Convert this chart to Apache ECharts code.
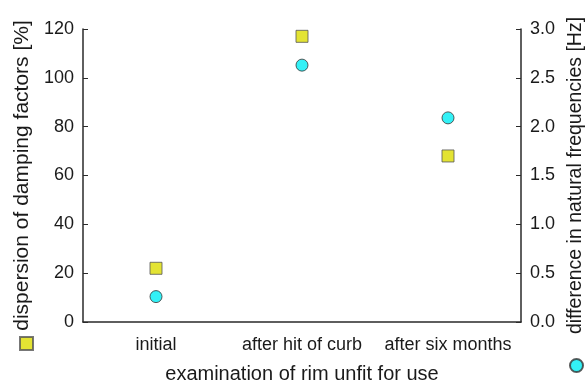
<!DOCTYPE html>
<html><head><meta charset="utf-8">
<script src="https://cdn.jsdelivr.net/npm/echarts@6/dist/echarts.min.js"></script>
<style>html,body{margin:0;padding:0;background:#fff}#c{width:586px;height:383px}</style>
</head><body><div id="c"></div>
<script>
const categories = ['initial', 'after hit of curb', 'after six months'];
const damping = [22, 117, 68];
const freqDiff = [0.26, 2.63, 2.09];
const leftTicks = [0, 20, 40, 60, 80, 100, 120];
const rightTicks = [0, 0.5, 1.0, 1.5, 2.0, 2.5, 3.0];

const font = 'Liberation Sans, Arial, sans-serif';
const axisCol = '#2a2a2a';
const txt = '#1a1a1a';
const chart = echarts.init(document.getElementById('c'));
chart.setOption({
  animation: false,
  grid: {left: 83, right: 65, top: 29, bottom: 61, containLabel: false, outerBoundsMode: 'none'},
  legend: [
    {data: ['damping'], left: 19, top: 336, itemWidth: 13, itemHeight: 13, formatter: () => '', padding: 0},
    {data: ['freq'], left: 569, top: 358, itemWidth: 13, itemHeight: 13, formatter: () => '', padding: 0}
  ],
  xAxis: {
    type: 'category', data: categories,
    name: 'examination of rim unfit for use', nameLocation: 'middle', nameGap: 42,
    nameTextStyle: {fontFamily: font, fontSize: 20, color: txt},
    axisLine: {lineStyle: {color: axisCol, width: 1.5}},
    axisTick: {alignWithLabel: true, inside: true, length: 5, lineStyle: {color: axisCol}},
    axisLabel: {fontFamily: font, fontSize: 18, color: txt, margin: 14, interval: 0}
  },
  yAxis: [
    {
      type: 'value', min: 0, max: 120, interval: 20, position: 'left',
      name: 'dispersion of damping factors [%]', nameLocation: 'middle', nameGap: 46, nameRotate: 90,
      nameTextStyle: {fontFamily: font, fontSize: 21, color: txt},
      axisLine: {show: true, lineStyle: {color: axisCol, width: 1.5}},
      axisTick: {show: true, inside: true, length: 5, lineStyle: {color: axisCol}},
      axisLabel: {fontFamily: font, fontSize: 18, color: txt, margin: 9,
        formatter: v => leftTicks.includes(v) ? String(v) : ''},
      splitLine: {show: false}
    },
    {
      type: 'value', min: 0, max: 3, interval: 0.5, position: 'right',
      name: 'difference in natural frequencies [Hz]', nameLocation: 'middle', nameGap: 45, nameRotate: 90,
      nameTextStyle: {fontFamily: font, fontSize: 19.5, color: txt},
      axisLine: {show: true, lineStyle: {color: axisCol, width: 1.5}},
      axisTick: {show: true, inside: true, length: 5, lineStyle: {color: axisCol}},
      axisLabel: {fontFamily: font, fontSize: 18, color: txt, margin: 9,
        formatter: v => { const t = rightTicks.find(x => Math.abs(x - v) < 1e-9); return t === undefined ? '' : t.toFixed(1); }},
      splitLine: {show: false}
    }
  ],
  series: [
    {name: 'damping', type: 'scatter', yAxisIndex: 0, data: damping, symbol: 'rect', symbolSize: 12,
      itemStyle: {color: '#dcdc00', borderColor: '#555', borderWidth: 1}},
    {name: 'freq', type: 'scatter', yAxisIndex: 1, data: freqDiff, symbol: 'circle', symbolSize: 12,
      itemStyle: {color: '#00eef4', borderColor: '#333', borderWidth: 1}}
  ]
});
</script></body></html>
